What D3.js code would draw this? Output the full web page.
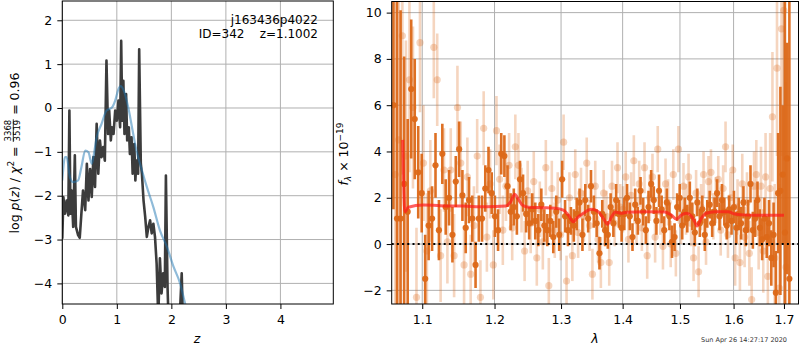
<!DOCTYPE html>
<html>
<head>
<meta charset="utf-8">
<script src="https://cdn.jsdelivr.net/npm/d3@7"></script>
<style>
  body { margin: 0; background: #fff; }
  svg { display: block; font-family: "DejaVu Sans", sans-serif; }
  text { white-space: pre; }
</style>
</head>
<body>
<svg id="chart" width="800" height="350"></svg>
<script>
// ---- left panel: log p(z) ----
const pzZ = [0.00,0.02,0.05,0.08,0.11,0.13,0.15,0.17,0.20,0.23,0.25,0.29,0.32,0.35,0.38,0.42,0.45,0.48,0.51,0.54,
  0.57,0.60,0.63,0.66,0.69,0.72,0.75,0.78,0.81,0.84,0.86,0.89,0.91,0.94,0.97,1.00,1.03,1.06,1.08,1.10,
  1.12,1.14,1.17,1.19,1.22,1.24,1.27,1.29,1.32,1.34,1.36,1.39,1.41,1.44,1.46,1.49,1.52,1.55,1.58,1.61,
  1.64,1.67,1.70,1.73,1.76,1.79,1.82,1.85,1.88,1.90,1.93,1.95,2.00,2.10,2.16,2.19,2.21,2.28,2.50,3.00];
const pzLog = [-2.98,-2.03,-2.41,-2.11,-2.45,-0.06,-2.41,-1.88,-2.71,-1.08,-2.71,-2.90,-2.96,-2.41,-1.88,-2.33,-1.27,-2.11,-1.39,-2.03,
  -1.12,-1.80,-0.36,-1.50,-0.74,-1.12,-0.89,-1.20,1.08,-0.59,-0.06,-0.74,-0.44,-0.59,-0.06,-0.29,0.17,-0.44,1.53,-0.29,
  0.62,-0.59,0.32,-0.74,-0.44,-1.05,-0.67,-1.50,-0.82,-1.65,-1.20,-1.50,1.34,-1.27,-1.50,-2.11,-2.48,-2.94,-2.71,-2.56,
  -2.86,-2.64,-2.94,-3.55,-4.80,-3.43,-4.23,-3.77,-4.08,-1.54,-4.08,-4.90,-5.20,-5.00,-4.60,-3.77,-4.80,-5.50,-6.50,-8.00];
const smoothZ = [0.00,0.05,0.08,0.14,0.20,0.29,0.35,0.42,0.48,0.54,0.57,0.63,0.72,0.81,0.91,0.97,1.03,1.07,1.13,1.21,
  1.29,1.36,1.46,1.55,1.67,1.79,1.92,2.04,2.16,2.25,2.34];
const smoothLog = [-1.65,-1.12,-1.12,-1.58,-1.69,-1.65,-1.35,-0.97,-1.01,-1.27,-1.12,-0.67,-0.36,-0.06,0.01,0.17,0.43,0.50,0.39,0.01,
  -0.52,-0.97,-1.42,-1.80,-2.26,-2.79,-3.17,-3.62,-4.00,-4.45,-4.90];
const zTicks = [0, 1, 2, 3, 4];
const logTicks = [-4, -3, -2, -1, 0, 1, 2];
const objName = "j163436p4022";
const objInfo = "ID=342    z=1.1002";
const chiNum = "3368", chiDen = "3519", chiVal = "0.96";

// ---- right panel: spectrum ----
const darkWave = [1.0625,1.0671,1.0717,1.0763,1.0809,1.0855,1.0901,1.0947,1.0993,1.1039,
  1.1085,1.1131,1.1177,1.1223,1.1269,1.1315,1.1361,1.1407,1.1453,1.1499,
  1.1545,1.1591,1.1637,1.1683,1.1729,1.1775,1.1821,1.1867,1.1913,1.1959,
  1.2005,1.2051,1.2097,1.2143,1.2189,1.2235,1.2281,1.2327,1.2373,1.2419,
  1.2465,1.2511,1.2557,1.2603,1.2649,1.2695,1.2741,1.2787,1.2833,1.2879,
  1.2925,1.2971,1.3017,1.3063,1.3109,1.3155,1.3201,1.3247,1.3293,1.3339,
  1.3385,1.3431,1.3477,1.3523,1.3569,1.3615,1.3661,1.3707,1.3753,1.3799,
  1.3845,1.3891,1.3937,1.3983,1.4029,1.4075,1.4121,1.4167,1.4213,1.4259,
  1.4305,1.4351,1.4397,1.4443,1.4489,1.4535,1.4581,1.4627,1.4673,1.4719,
  1.4765,1.4811,1.4857,1.4903,1.4949,1.4995,1.5041,1.5087,1.5133,1.5179,
  1.5225,1.5271,1.5317,1.5363,1.5409,1.5455,1.5501,1.5547,1.5593,1.5639,
  1.5685,1.5731,1.5777,1.5823,1.5869,1.5915,1.5961,1.6007,1.6053,1.6099,
  1.6145,1.6191,1.6237,1.6283,1.6329,1.6375,1.6421,1.6467,1.6513,1.6559,
  1.6605,1.6651,1.6697,1.6743,1.6789,1.6835,1.6881,1.6927,1.6973,1.7019,
  1.7065,1.7111];
const darkFlux = [6.0,1.1,1.1,2.6,1.4,6.7,5.4,3.1,2.2,-1.5,
  0.8,1.1,3.4,0.6,3.9,1.6,2.0,0.4,2.7,4.1,
  2.1,0.7,1.9,1.1,-0.9,1.1,1.1,2.4,3.2,2.2,
  1.2,0.6,3.9,3.8,2.5,1.4,1.6,1.2,2.8,2.2,
  1.3,0.9,1.5,1.0,0.6,1.7,0.8,0.6,1.0,0.3,
  1.4,0.4,2.8,1.2,0.6,1.0,0.8,1.3,1.8,0.4,
  1.9,1.1,2.5,1.4,0.9,-0.4,1.3,0.6,0.4,1.6,
  0.9,1.9,1.3,0.7,1.3,2.0,1.2,0.3,1.7,1.0,
  2.3,1.4,0.6,1.6,2.6,1.9,1.0,2.3,1.5,0.6,
  1.8,1.2,0.1,0.3,1.6,2.0,0.8,1.4,1.1,2.0,
  1.2,0.5,1.8,0.9,1.5,0.4,1.3,1.7,0.9,1.4,
  2.2,1.2,1.9,1.4,0.8,1.5,1.0,1.6,0.7,1.3,
  0.9,1.8,0.6,1.2,2.6,0.6,1.1,1.9,0.7,0.2,
  1.1,0.3,0.9,-0.6,0.4,-2.1,2.2,2.3,3.0,0.5,
  3.7,-1.5];
const darkErr = [4.5,12,9,5.5,4.0,3.0,2.6,2.0,1.7,1.9,
  1.5,1.4,1.4,1.3,1.3,1.2,1.2,1.2,1.1,1.2,
  1.1,1.1,1.0,1.0,1.0,1.0,1.0,1.0,1.0,0.9,
  0.9,0.9,0.9,0.9,0.9,0.8,0.8,0.8,0.8,0.8,
  0.8,0.7,0.7,0.8,0.7,0.7,0.7,0.7,0.7,0.7,
  0.7,0.7,0.8,0.7,0.7,0.6,0.7,0.7,0.6,0.7,
  0.7,0.6,0.7,0.7,0.6,0.7,0.6,0.7,0.6,0.6,
  0.6,0.7,0.6,0.6,0.7,0.6,0.6,0.6,0.7,0.6,
  0.6,0.6,0.6,0.7,0.6,0.6,0.6,0.7,0.6,0.6,
  0.6,0.6,0.7,0.6,0.6,0.6,0.6,0.6,0.6,0.7,
  0.6,0.6,0.6,0.6,0.6,0.7,0.6,0.6,0.6,0.6,
  0.6,0.6,0.7,0.6,0.6,0.6,0.6,0.7,0.7,0.7,
  0.7,0.7,0.7,0.7,0.8,0.8,0.8,0.8,0.8,0.9,
  0.9,0.9,1.0,1.2,1.4,1.8,2.6,4.5,3.0,12,
  5,12];
const lightWave = [1.0648,1.0694,1.0740,1.0786,1.0832,1.0878,1.0924,1.0970,1.1016,1.1062,
  1.1108,1.1154,1.1200,1.1246,1.1292,1.1338,1.1384,1.1430,1.1476,1.1522,
  1.1568,1.1614,1.1660,1.1706,1.1752,1.1798,1.1844,1.1890,1.1936,1.1982,
  1.2028,1.2074,1.2120,1.2166,1.2212,1.2258,1.2304,1.2350,1.2396,1.2442,
  1.2488,1.2534,1.2580,1.2626,1.2672,1.2718,1.2764,1.2810,1.2856,1.2902,
  1.2948,1.2994,1.3040,1.3086,1.3132,1.3178,1.3224,1.3270,1.3316,1.3362,
  1.3408,1.3454,1.3500,1.3546,1.3592,1.3638,1.3684,1.3730,1.3776,1.3822,
  1.3868,1.3914,1.3960,1.4006,1.4052,1.4098,1.4144,1.4190,1.4236,1.4282,
  1.4328,1.4374,1.4420,1.4466,1.4512,1.4558,1.4604,1.4650,1.4696,1.4742,
  1.4788,1.4834,1.4880,1.4926,1.4972,1.5018,1.5064,1.5110,1.5156,1.5202,
  1.5248,1.5294,1.5340,1.5386,1.5432,1.5478,1.5524,1.5570,1.5616,1.5662,
  1.5708,1.5754,1.5800,1.5846,1.5892,1.5938,1.5984,1.6030,1.6076,1.6122,
  1.6168,1.6214,1.6260,1.6306,1.6352,1.6398,1.6444,1.6490,1.6536,1.6582,
  1.6628,1.6674,1.6720,1.6766,1.6812,1.6858,1.6904,1.6950,1.6996,1.7042];
const lightFlux = [3.0,4.5,9.0,3.8,7.1,5.9,-2.3,8.7,3.5,-0.3,
  2.3,8.5,7.1,-0.5,3.2,0.1,3.2,-0.5,5.9,3.5,
  -0.9,2.9,-1.3,0.8,3.8,-2.3,5.0,0.3,2.6,-0.9,
  4.9,2.8,0.6,2.5,3.4,0.7,4.2,3.4,1.9,-0.3,
  2.3,0.9,2.7,-0.6,1.5,0.1,3.3,-1.8,2.4,0.6,
  1.9,0.4,4.4,-1.6,2.0,-0.5,3.0,0.5,2.2,1.2,
  3.5,0.8,-1.3,2.5,0.2,-0.8,2.2,1.2,-0.8,2.5,
  0.9,3.3,1.6,1.5,2.9,0.2,2.1,3.6,1.0,2.6,
  0.7,3.3,-0.5,2.0,2.9,0.3,4.1,1.4,-0.1,2.6,
  1.8,0.0,3.0,-0.4,4.1,1.0,2.5,1.5,2.9,0.9,
  -0.6,2.2,-1.2,1.6,3.0,0.1,2.7,3.1,1.2,1.9,
  2.8,0.6,2.4,4.2,0.4,2.0,3.2,-0.6,1.6,-0.8,
  2.6,0.3,1.8,-0.4,-2.4,2.5,3.0,0.5,2.5,-0.3,
  2.9,-1.4,2.4,5.5,-0.6,7.6,-1.9,9.3,10.1,-1.0];
const lightErr = [10,8,6,5,4,3.5,3,3,2.5,2.5,
  2.2,2.2,2.0,2.0,1.8,1.8,1.8,1.8,1.8,1.8,
  1.7,1.7,1.7,1.7,1.6,1.6,1.6,1.5,1.5,1.5,
  1.5,1.5,1.5,1.5,1.4,1.4,1.4,1.4,1.4,1.3,
  1.3,1.3,1.3,1.2,1.2,1.2,1.2,1.2,1.2,1.2,
  1.2,1.1,1.2,1.1,1.1,1.1,1.1,1.1,1.1,1.1,
  1.1,1.1,1.1,1.1,1.0,1.1,1.0,1.1,1.0,1.1,
  1.0,1.1,1.0,1.0,1.1,1.0,1.0,1.1,1.0,1.0,
  1.0,1.1,1.0,1.0,1.0,1.1,1.0,1.0,1.0,1.1,
  1.0,1.0,1.1,1.0,1.0,1.0,1.0,1.1,1.0,1.0,
  1.0,1.0,1.1,1.0,1.0,1.0,1.1,1.0,1.0,1.0,
  1.0,1.1,1.0,1.1,1.0,1.1,1.1,1.2,1.2,1.2,
  1.3,1.3,1.3,1.4,1.4,1.5,1.5,1.6,1.7,1.8,
  1.9,2.1,2.4,2.8,3.2,3.8,4.5,5.5,6.5,8];
const modelWave = [1.0744,1.0773,1.0817,1.1013,1.1236,1.1553,1.1878,1.2164,1.2236,1.2294,
  1.2342,1.2406,1.2505,1.2705,1.2908,1.3036,1.3115,1.3194,1.3246,1.3353,
  1.3487,1.3596,1.3678,1.3749,1.3815,1.3882,1.3983,1.4067,1.4380,1.4728,
  1.4845,1.4935,1.5025,1.5115,1.5206,1.5268,1.5311,1.5390,1.5483,1.5640,
  1.5892,1.6020,1.6279,1.6541,1.7000];
const modelFlux = [4.5,1.40,1.59,1.69,1.66,1.64,1.61,1.64,1.83,2.15,
  1.97,1.69,1.59,1.57,1.55,1.47,1.25,0.96,1.11,1.33,
  1.50,1.40,1.11,0.86,1.18,1.38,1.33,1.37,1.40,1.38,
  1.25,1.08,1.25,1.33,1.21,0.96,0.78,1.11,1.33,1.40,
  1.40,1.30,1.25,1.24,1.24];
const waveTicks = [1.1, 1.2, 1.3, 1.4, 1.5, 1.6, 1.7];
const fluxTicks = [-2, 0, 2, 4, 6, 8, 10];
const stamp = "Sun Apr 26 14:27:17 2020";

const svg = d3.select("#chart");
const tickFont = 12.5;
const gridColor = "#b0b0b0";
const orange = "#dc6818";

// scales
const xL = d3.scaleLinear().domain([0, 4.97]).range([62.3, 333.3]);
const yL = d3.scaleLinear().domain([-4.47, 2.44]).range([304, 1]);
const xR = d3.scaleLog().domain([1.0603, 1.730]).range([391.7, 798.5]);
const yR = d3.scaleLinear().domain([-2.59, 10.48]).range([304, 1.5]);

function panelClip(x, y, id) {
  const [x0, x1] = x.range(), [y0, y1] = y.range();
  svg.append("clipPath").attr("id", id)
    .append("rect").attr("x", x0).attr("y", y1).attr("width", x1 - x0).attr("height", y0 - y1);
}

function drawGrid(x, y, xt, yt) {
  const [x0, x1] = x.range(), [y0, y1] = y.range();
  const g = svg.append("g").attr("stroke", gridColor).attr("stroke-width", 1);
  g.selectAll(".gx").data(xt).join("line")
    .attr("x1", d => x(d)).attr("x2", d => x(d)).attr("y1", y1).attr("y2", y0);
  g.selectAll(".gy").data(yt).join("line")
    .attr("x1", x0).attr("x2", x1).attr("y1", d => y(d)).attr("y2", d => y(d));
}

function drawAxes(x, y, xt, yt, xfmt) {
  const [x0, x1] = x.range(), [y0, y1] = y.range();
  const ax = svg.append("g").attr("transform", `translate(0,${y0})`)
    .call(d3.axisBottom(x).tickValues(xt).tickFormat(xfmt).tickSize(5).tickPadding(6));
  const ay = svg.append("g").attr("transform", `translate(${x0},0)`)
    .call(d3.axisLeft(y).tickValues(yt).tickFormat(d3.format("d")).tickSize(5).tickPadding(5));
  [ax, ay].forEach(a => {
    a.select(".domain").remove();
    a.selectAll("text").attr("font-size", tickFont).attr("fill", "#000")
      .attr("font-family", "DejaVu Sans");
    a.selectAll("line").attr("stroke", "#000").attr("stroke-width", 1);
  });
  svg.append("rect").attr("x", x0).attr("y", y1).attr("width", x1 - x0).attr("height", y0 - y1)
    .attr("fill", "none").attr("stroke", "#000").attr("stroke-width", 1);
}

// ---------- left panel ----------
panelClip(xL, yL, "clipL");
drawGrid(xL, yL, zTicks, logTicks);

const plotL = svg.append("g").attr("clip-path", "url(#clipL)");
plotL.append("path")
  .datum(pzZ.map((z, i) => [z, pzLog[i]]))
  .attr("fill", "none").attr("stroke", "#3c3c3c").attr("stroke-width", 2.6)
  .attr("stroke-linejoin", "round")
  .attr("d", d3.line().x(d => xL(d[0])).y(d => yL(d[1])));
plotL.append("path")
  .datum(smoothZ.map((z, i) => [z, smoothLog[i]]))
  .attr("fill", "none").attr("stroke", "#1f77b4").attr("stroke-opacity", 0.5).attr("stroke-width", 2.2)
  .attr("d", d3.line().curve(d3.curveMonotoneX).x(d => xL(d[0])).y(d => yL(d[1])));

drawAxes(xL, yL, zTicks, logTicks, d3.format("d"));

svg.append("text").attr("x", 318).attr("y", 23.5).attr("text-anchor", "end")
  .attr("font-size", 12).text(objName);
svg.append("text").attr("x", 318).attr("y", 38).attr("text-anchor", "end")
  .attr("font-size", 12).text(objInfo);

// x label
svg.append("text").attr("x", 197).attr("y", 343).attr("text-anchor", "middle")
  .attr("font-size", tickFont).attr("font-style", "italic").text("z");

// y label with fraction
{
  const g = svg.append("g").attr("transform", "translate(18.5,153) rotate(-90)");
  const inner = g.append("g");
  const t1 = inner.append("text").attr("font-size", tickFont);
  t1.append("tspan").text("log ");
  t1.append("tspan").attr("font-style", "italic").text("p");
  t1.append("tspan").text("(");
  t1.append("tspan").attr("font-style", "italic").text("z");
  t1.append("tspan").text(") / ");
  t1.append("tspan").attr("font-style", "italic").text("χ");
  t1.append("tspan").attr("font-size", 9).attr("dy", -5).text("2");
  t1.append("tspan").attr("dy", 5).text(" = ");
  let x = t1.node().getComputedTextLength() + 0.5;
  const num = inner.append("text").attr("font-size", 8.5).attr("text-anchor", "middle").text(chiNum);
  const den = inner.append("text").attr("font-size", 8.5).attr("text-anchor", "middle").text(chiDen);
  const fw = Math.max(num.node().getComputedTextLength(), den.node().getComputedTextLength()) + 1;
  num.attr("x", x + fw / 2).attr("y", -7.2);
  den.attr("x", x + fw / 2).attr("y", 1.5);
  inner.append("line").attr("x1", x).attr("x2", x + fw).attr("y1", -5.2).attr("y2", -5.2)
    .attr("stroke", "#000").attr("stroke-width", 0.8);
  x += fw + 0.5;
  const t3 = inner.append("text").attr("x", x).attr("font-size", tickFont).text(" = " + chiVal);
  const total = x + t3.node().getComputedTextLength();
  inner.attr("transform", `translate(${-total / 2},0)`);
}

// ---------- right panel ----------
panelClip(xR, yR, "clipR");
drawGrid(xR, yR, waveTicks, fluxTicks);

const plotR = svg.append("g").attr("clip-path", "url(#clipR)");

function errGroup(wave, flux, err, opacity, r) {
  const pts = wave.map((w, i) => ({ w, f: flux[i], e: err[i] }));
  const g = plotR.append("g");
  g.selectAll("line").data(pts).join("line")
    .attr("x1", d => xR(d.w)).attr("x2", d => xR(d.w))
    .attr("y1", d => yR(d.f - d.e)).attr("y2", d => yR(d.f + d.e))
    .attr("stroke", orange).attr("stroke-opacity", opacity).attr("stroke-width", 2.6);
  g.selectAll("circle").data(pts).join("circle")
    .attr("cx", d => xR(d.w)).attr("cy", d => yR(d.f)).attr("r", r)
    .attr("fill", orange).attr("fill-opacity", opacity);
}
errGroup(lightWave, lightFlux, lightErr, 0.28, 3.6);
errGroup(darkWave, darkFlux, darkErr, 0.95, 3.1);

plotR.append("path")
  .datum(modelWave.map((w, i) => [w, modelFlux[i]]))
  .attr("fill", "none").attr("stroke", "#ff1a1a").attr("stroke-opacity", 0.7).attr("stroke-width", 3)
  .attr("d", d3.line().curve(d3.curveMonotoneX).x(d => xR(d[0])).y(d => yR(d[1])));

plotR.append("line")
  .attr("x1", xR.range()[0]).attr("x2", xR.range()[1]).attr("y1", yR(0)).attr("y2", yR(0))
  .attr("stroke", "#000").attr("stroke-width", 2).attr("stroke-dasharray", "2,3.2");

drawAxes(xR, yR, waveTicks, fluxTicks, d3.format(".1f"));

svg.append("text").attr("x", 595).attr("y", 343).attr("text-anchor", "middle")
  .attr("font-size", tickFont).attr("font-style", "italic").text("λ");

{
  const g = svg.append("g").attr("transform", "translate(348,154) rotate(-90)");
  const t = g.append("text").attr("font-size", tickFont).attr("text-anchor", "middle");
  t.append("tspan").attr("font-style", "italic").text("f");
  t.append("tspan").attr("font-style", "italic").attr("font-size", 9).attr("dy", 3).text("λ");
  t.append("tspan").attr("dy", -3).text(" × 10");
  t.append("tspan").attr("font-size", 9).attr("dy", -5).text("−19");
}

svg.append("text").attr("x", 787).attr("y", 341.5).attr("text-anchor", "end")
  .attr("font-size", 6.5).attr("fill", "#333").text(stamp);
</script>
</body>
</html>
